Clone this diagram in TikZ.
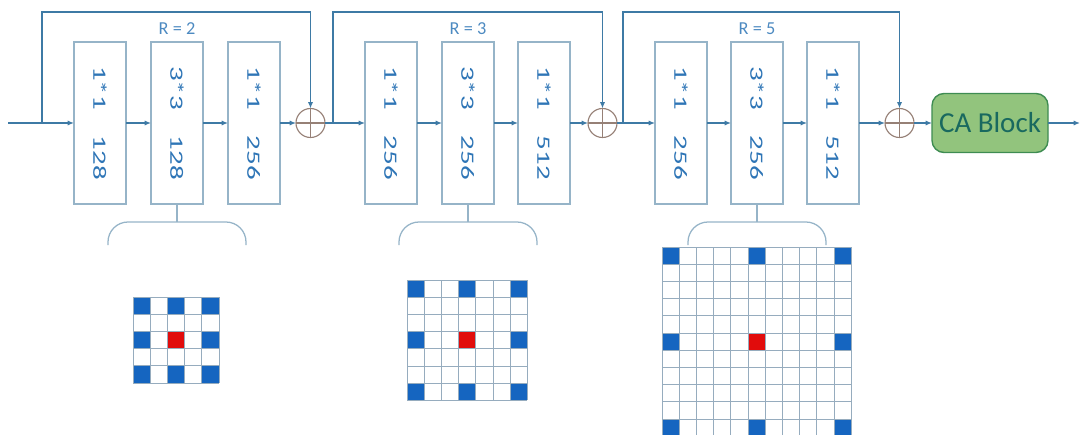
\documentclass[tikz,border=0pt]{standalone}
\usepackage{fontspec}
\setmainfont{Carlito}
\usepackage{graphicx}
\usetikzlibrary{arrows.meta,positioning,calc}
\definecolor{lineblue}{RGB}{62,122,165}
\definecolor{boxedge}{RGB}{150,180,200}
\definecolor{textblue}{RGB}{46,117,182}
\definecolor{sumedge}{RGB}{150,128,118}
\definecolor{tapblue}{RGB}{21,101,192}
\definecolor{tapred}{RGB}{225,12,12}
\definecolor{cellline}{RGB}{150,172,190}
\definecolor{cafill}{RGB}{146,196,125}
\definecolor{caedge}{RGB}{62,140,82}
\definecolor{catext}{RGB}{25,105,95}
\newcommand{\convtext}[2]{\rotatebox{-90}{\scalebox{1}[0.65]{#1\hspace{6.5mm}#2}}}

\begin{document}
\begin{tikzpicture}[x=0.25mm, y=-0.25mm,
      conv/.style={draw=boxedge, line width=1pt, minimum width=13mm,
                   minimum height=40.5mm, inner sep=0pt, outer sep=0pt,
                   text=textblue, font=\fontsize{20.6}{24}\selectfont},
      sum/.style={circle, draw=sumedge, line width=0.8pt, minimum size=7.25mm,
                  inner sep=0pt, outer sep=0pt,
                  path picture={\draw[sumedge, line width=0.8pt]
                    (path picture bounding box.north) -- (path picture bounding box.south)
                    (path picture bounding box.west) -- (path picture bounding box.east);}},
      cablock/.style={draw=caedge, fill=cafill, line width=1pt, rounded corners=3mm,
                      minimum width=29mm, minimum height=14.75mm, inner sep=0pt,
                      outer sep=0pt, text=catext, font=\fontsize{20.6}{24}\selectfont},
      rlab/.style={text=textblue!85, font=\fontsize{13}{15}\selectfont, inner sep=1pt},
      arr/.style={-{Latex[length=1.6mm,width=1.3mm]}, lineblue, line width=0.9pt},
      brc/.style={boxedge, line width=0.9pt, rounded corners=5mm},
      cell/.style={cellline, line width=0.5pt}
    ]
    \useasboundingbox (0,0) rectangle (1082,435);

    % dilated bottleneck R = 2
    \node[conv] (b1) at (100,123) {\convtext{1*1}{128}};
    \node[conv, right=6.25mm of b1] (b2) {\convtext{3*3}{128}};
    \node[conv, right=6.25mm of b2] (b3) {\convtext{1*1}{256}};
    \node[sum, right=4mm of b3] (s1) {};
    % R = 3
    \node[conv, right=10mm of s1] (b4) {\convtext{1*1}{256}};
    \node[conv, right=6.25mm of b4] (b5) {\convtext{3*3}{256}};
    \node[conv, right=6mm of b5] (b6) {\convtext{1*1}{512}};
    \node[sum, right=4.5mm of b6] (s2) {};
    % R = 5
    \node[conv, right=9.5mm of s2] (b7) {\convtext{1*1}{256}};
    \node[conv, right=6mm of b7] (b8) {\convtext{3*3}{256}};
    \node[conv, right=6mm of b8] (b9) {\convtext{1*1}{512}};
    \node[sum, right=6.5mm of b9] (s3) {};
    \node[cablock, right=4.5mm of s3] (ca) {CA Block};

    \node[rlab, above=1.5mm of b2] (r2) {R = 2};
    \node[rlab, above=1.5mm of b5] (r3) {R = 3};
    \node[rlab, above=1.5mm of b8] (r5) {R = 5};

    \coordinate (in) at (8,123);
    \coordinate (out) at ([xshift=8mm]ca.east);
    \draw[arr] (in) -- (b1);
    \draw[arr] (b1) -- (b2);
    \draw[arr] (b2) -- (b3);
    \draw[arr] (b3) -- (s1);
    \draw[arr] (s1) -- (b4);
    \draw[arr] (b4) -- (b5);
    \draw[arr] (b5) -- (b6);
    \draw[arr] (b6) -- (s2);
    \draw[arr] (s2) -- (b7);
    \draw[arr] (b7) -- (b8);
    \draw[arr] (b8) -- (b9);
    \draw[arr] (b9) -- (s3);
    \draw[arr] (s3) -- (ca);
    \draw[arr] (ca) -- (out);

    % shortcuts
    \draw[arr] ([xshift=-8mm]b1.west) -- ++(0,27.75mm) -| (s1.north);
    \draw[arr] ([xshift=2mm]s1.east) -- ++(0,27.75mm) -| (s2.north);
    \draw[arr] ([xshift=1.5mm]s2.east) -- ++(0,27.75mm) -| (s3.north);

    % braces under the 3*3 layers
    \foreach \b in {b2,b5,b8} {
      \draw[brc] (\b.south) -- ++(0,-4.5mm) coordinate (k\b);
      \draw[brc] ($(k\b)+(-17.25mm,-5.75mm)$) |- (k\b) -| ($(k\b)+(17.25mm,-5.75mm)$);
    }

    % dilated 3*3 kernels
    \foreach \gx/\gy/\d in {133/297/2, 407/280/3, 662/247/5} {
      \pgfmathtruncatemacro{\m}{2*\d+1}
      \foreach \p in {0,1,2} \foreach \q in {0,1,2}
        \fill[tapblue] ({\gx+\p*\d*17.2},{\gy+\q*\d*17.2}) rectangle ++(17.2,17.2);
      \fill[tapred] ({\gx+\d*17.2},{\gy+\d*17.2}) rectangle ++(17.2,17.2);
      \foreach \k in {0,...,\m} {
        \draw[cell] ({\gx+\k*17.2},\gy) -- ++(0,{\m*17.2});
        \draw[cell] (\gx,{\gy+\k*17.2}) -- ++({\m*17.2},0);
      }
    }
  \end{tikzpicture}
\end{document}
